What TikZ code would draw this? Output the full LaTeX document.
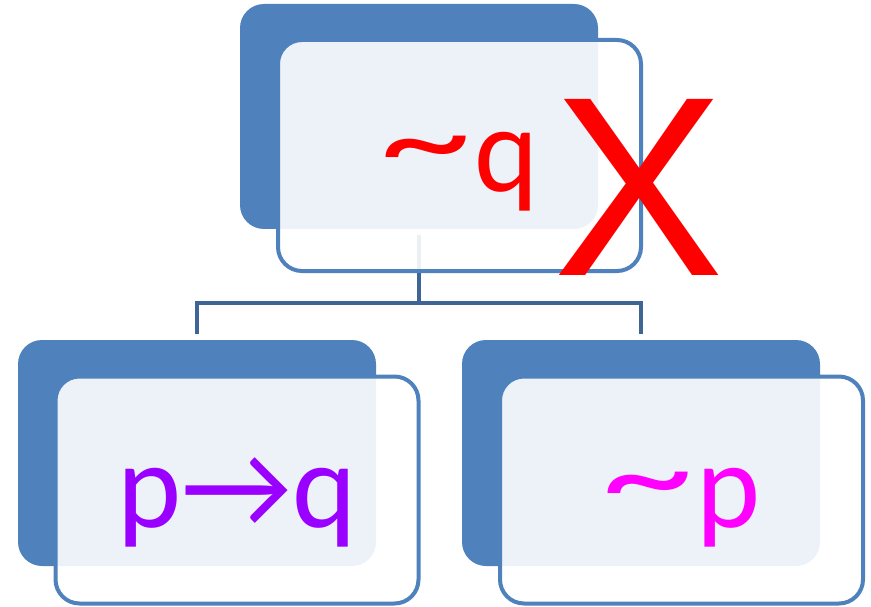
\documentclass[tikz,border=0pt]{standalone}
\usepackage{fontspec}
\setmainfont{Carlito}
\newfontfamily\crossfont{Liberation Sans}
\usetikzlibrary{positioning}
\definecolor{boxblue}{RGB}{79,129,189}
\definecolor{linkblue}{RGB}{62,101,149}
\definecolor{negred}{RGB}{255,0,0}
\definecolor{implpurple}{RGB}{153,0,255}
\definecolor{negpink}{RGB}{255,0,255}
% Wide negation tilde.
\newcommand{\negtilde}{\raisebox{9pt}{\scalebox{1.5}[1.05]{\textasciitilde}}\kern3pt}
\tikzset{
  % Solid block behind each term.
  back/.style={
    rectangle, rounded corners=24pt,
    fill=boxblue,
    minimum width=358pt, minimum height=226pt,
    inner sep=0pt,
  },
  % Outlined, half-see-through frame in front.
  front/.style={
    rectangle, rounded corners=24pt,
    draw=boxblue, line width=4pt,
    fill=white, fill opacity=0.9,
    minimum width=363pt, minimum height=227pt,
    inner sep=0pt,
  },
  % Term text.
  term/.style={anchor=base, inner sep=0pt, font=\fontsize{122}{130}\selectfont},
  % Tree connector.
  link/.style={draw=linkblue, line width=4.5pt, shorten <=6pt, shorten >=6pt},
}
\begin{document}
\begin{tikzpicture}[x=1pt, y=-1pt]
  \useasboundingbox (0,0) rectangle (871,607);

  % Back blocks.
  \node[back, minimum height=225pt] (qback)  at (419, 116.5) {};
  \node[back] (pqback) at (197, 453) {};
  \node[back] (npback) at (641, 453) {};

  % Tree connector.
  \coordinate (fork) at (419, 303);
  \draw[link, shorten >=0pt] (qback.south) -- (fork);
  \draw[link] (pqback.north) |- (fork) -| (npback.north);

  % Front frames.
  \node[front, minimum height=231pt] (qfront) at (459.5, 155.5) {};
  \node[front] (pqfront) at (237, 490) {};
  \node[front] (npfront) at (681.5, 490) {};

  % Terms.
  \node[term, text=negred]     (notq) at ([yshift=-36pt]qfront.center)  {\negtilde q};
  \node[term, text=implpurple] (impl) at ([yshift=-37pt]pqfront.center) {p→q};
  \node[term, text=negpink]    (notp) at ([yshift=-37pt]npfront.center) {\negtilde p};

  % Cross over the top term.
  \node[anchor=base, inner sep=0pt, text=negred,
    font=\crossfont\fontsize{256}{260}\selectfont] (cross) at (638.5, 275) {X};

\end{tikzpicture}
\end{document}
